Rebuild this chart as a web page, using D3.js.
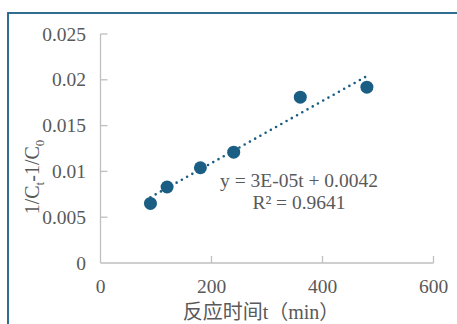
<!DOCTYPE html>
<html>
<head>
<meta charset="utf-8">
<script src="https://cdn.jsdelivr.net/npm/d3@7"></script>
<style>
  body { margin: 0; background: #fff; }
  svg { display: block; }
</style>
</head>
<body>
<div id="chart"></div>
<script>
// data
var timeMin = [90, 120, 180, 240, 360, 480];
var invConc = [0.0065, 0.0083, 0.0104, 0.0121, 0.0181, 0.0192];
var xTicks = [0, 200, 400, 600];
var yTicks = [0, 0.005, 0.01, 0.015, 0.02, 0.025];
var yTickLabels = ["0", "0.005", "0.01", "0.015", "0.02", "0.025"];
var eqText = "y = 3E-05t + 0.0042";
var r2Text = "R\u00b2 = 0.9641";

var W = 457, H = 324;
var blue = "#1a5e84", grey = "#595959", axisGrey = "#bfbfbf";

var svg = d3.select("#chart")
  .append("svg")
    .attr("width", W)
    .attr("height", H)
    .attr("font-family", "Liberation Serif, Noto Sans CJK SC");

// chart frame (only left and top edge are visible)
svg.append("rect")
  .attr("x", 8)
  .attr("y", 13)
  .attr("width", 470)
  .attr("height", 340)
  .attr("fill", "none")
  .attr("stroke", blue)
  .attr("stroke-width", 1.8);

var x = d3.scaleLinear().domain([0, 600]).range([100.5, 433.5]);
var y = d3.scaleLinear().domain([0, 0.025]).range([263, 34]);

// axes lines
svg.append("line")
  .attr("x1", x(0)).attr("x2", x(600))
  .attr("y1", y(0)).attr("y2", y(0))
  .attr("stroke", axisGrey).attr("stroke-width", 1.3);
svg.append("line")
  .attr("x1", x(0)).attr("x2", x(0))
  .attr("y1", y(0)).attr("y2", y(0.025))
  .attr("stroke", axisGrey).attr("stroke-width", 1.3);

// ticks pointing inside
svg.selectAll(".xtick")
  .data(xTicks.slice(1))
  .enter().append("line")
    .attr("x1", function(d) { return x(d); })
    .attr("x2", function(d) { return x(d); })
    .attr("y1", y(0)).attr("y2", y(0) - 7)
    .attr("stroke", axisGrey).attr("stroke-width", 1.3);
svg.selectAll(".ytick")
  .data(yTicks.slice(1))
  .enter().append("line")
    .attr("x1", x(0)).attr("x2", x(0) + 7)
    .attr("y1", function(d) { return y(d); })
    .attr("y2", function(d) { return y(d); })
    .attr("stroke", axisGrey).attr("stroke-width", 1.3);

// tick labels
svg.selectAll(".xlabel")
  .data(xTicks)
  .enter().append("text")
    .attr("x", function(d) { return x(d); })
    .attr("y", 293)
    .attr("text-anchor", "middle")
    .attr("fill", grey)
    .attr("font-size", 19.5)
    .text(function(d) { return d; });
svg.selectAll(".ylabel")
  .data(yTicks)
  .enter().append("text")
    .attr("x", 86)
    .attr("y", function(d) { return y(d) + 6.5; })
    .attr("text-anchor", "end")
    .attr("fill", grey)
    .attr("font-size", 19.5)
    .text(function(d, i) { return yTickLabels[i]; });

// axis titles
svg.append("text")
  .attr("x", 261)
  .attr("y", 319)
  .attr("text-anchor", "middle")
  .attr("fill", grey)
  .attr("font-size", 20)
  .text("反应时间t（min）");

var ytitle = svg.append("text")
  .attr("transform", "translate(39,177) rotate(-90)")
  .attr("text-anchor", "middle")
  .attr("fill", grey)
  .attr("font-size", 20);
ytitle.append("tspan").text("1/C");
ytitle.append("tspan").attr("dy", 5).attr("font-size", 13).text("t");
ytitle.append("tspan").attr("dy", -5).text("-1/C");
ytitle.append("tspan").attr("dy", 5).attr("font-size", 13).text("0");

// linear trend line from least squares fit
var mx = d3.mean(timeMin), my = d3.mean(invConc);
var sxy = d3.sum(timeMin, function(t, i) { return (t - mx) * (invConc[i] - my); });
var sxx = d3.sum(timeMin, function(t) { return (t - mx) * (t - mx); });
var slope = sxy / sxx, icpt = my - slope * mx;

svg.append("path")
  .datum(d3.extent(timeMin))
  .attr("fill", "none")
  .attr("stroke", blue)
  .attr("stroke-width", 2.6)
  .attr("stroke-linecap", "round")
  .attr("stroke-dasharray", "0,6")
  .attr("d", d3.line()
    .x(function(d) { return x(d); })
    .y(function(d) { return y(slope * d + icpt); }));

// markers
svg.selectAll(".pt")
  .data(timeMin)
  .enter().append("circle")
    .attr("cx", function(d) { return x(d); })
    .attr("cy", function(d, i) { return y(invConc[i]); })
    .attr("r", 6.5)
    .attr("fill", blue);

// equation label
svg.append("text")
  .attr("x", 299)
  .attr("y", 186.5)
  .attr("text-anchor", "middle")
  .attr("fill", grey)
  .attr("font-size", 19.5)
  .text(eqText);
svg.append("text")
  .attr("x", 299)
  .attr("y", 209)
  .attr("text-anchor", "middle")
  .attr("fill", grey)
  .attr("font-size", 19.5)
  .text(r2Text);
</script>
</body>
</html>
